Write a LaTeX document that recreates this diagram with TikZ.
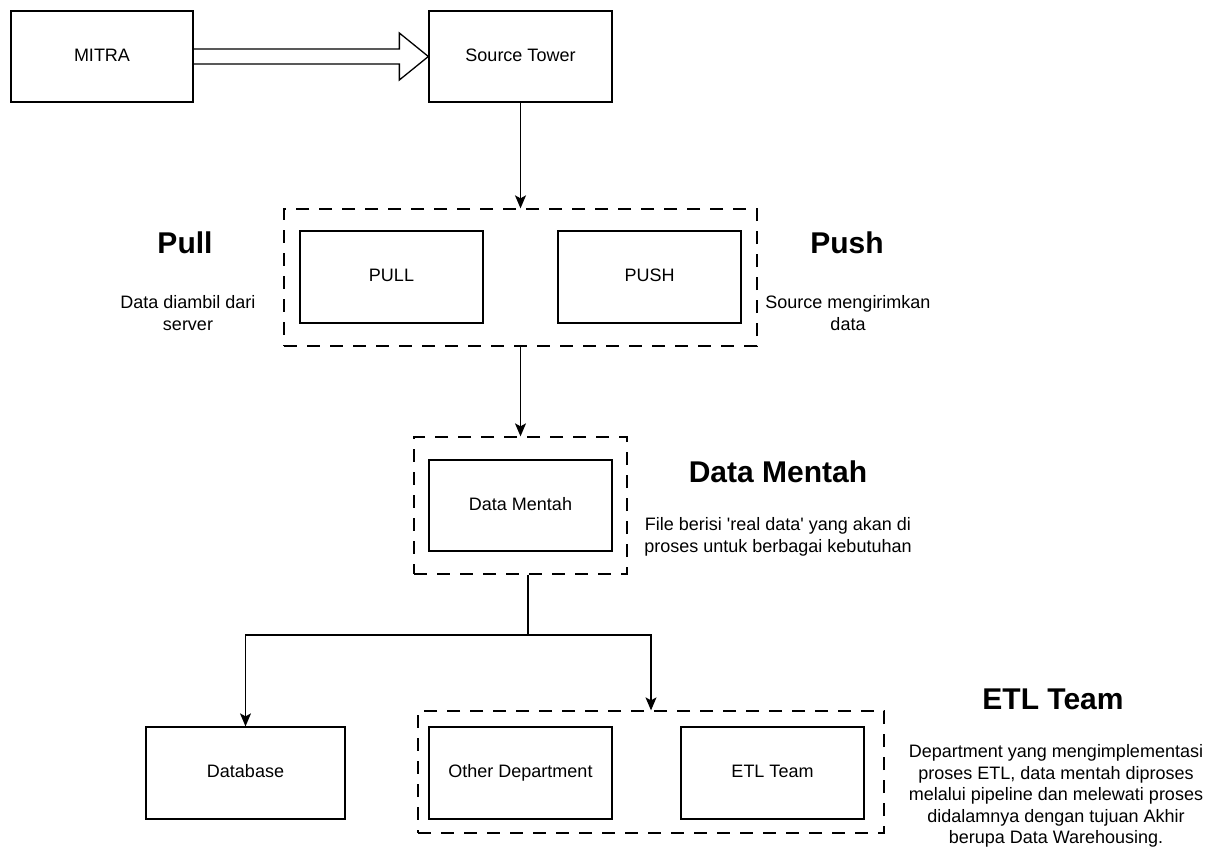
\documentclass[tikz,border=0pt]{standalone}
\usepackage{fontspec}
\setmainfont{Liberation Sans}
\usetikzlibrary{arrows.meta,calc}
\newcommand{\bodyfont}{\fontsize{18}{21.6}\selectfont}
\newcommand{\titlefont}{\fontsize{30}{36}\selectfont\bfseries}
\tikzset{
  box/.style={draw, line width=1.3pt, minimum width=183pt, minimum height=91pt, inner sep=0pt, text height=13pt, text depth=4pt, font=\bodyfont},
  group/.style={draw, line width=1.3pt, dash pattern=on 13pt off 10pt, inner sep=0pt},
  arr/.style={line width=1.3pt, -{Stealth[length=13pt, width=11pt, inset=3pt]}},
  conn/.style={line width=1.3pt},
  title/.style={font=\titlefont, inner sep=0pt},
  desc/.style={font=\bodyfont, align=center, inner sep=0pt}
}
\begin{document}
\begin{tikzpicture}[x=1pt, y=-1pt]
\useasboundingbox[fill=white] (0,0) rectangle (1218,852);

% top row
\node[box, minimum width=182pt] (mitra) at (102,56.5) {MITRA};
\node[box] (st) at (520.5,56.5) {Source Tower};

% pull / push group
\node[group, minimum width=473pt, minimum height=137pt] (g1) at (520.5,277.5) {};
\node[box, minimum height=92pt] (pull) at (391.5,277) {PULL};
\node[box, minimum height=92pt] (push) at (649.5,277) {PUSH};

% data mentah group
\node[group, minimum width=213pt, minimum height=137pt] (g2) at (520.5,505.5) {};
\node[box] (dm) at (520.5,505.5) {Data Mentah};

% bottom row
\node[box, minimum width=199pt, minimum height=92pt] (db) at (245.5,773) {Database};
\node[group, minimum width=466pt, minimum height=122pt] (g3) at (651,772) {};
\node[box, minimum height=92pt] (od) at (520.5,773) {Other Department};
\node[box, minimum height=92pt] (etl) at (772.5,773) {ETL Team};

% side texts
\node[title] (tpull) at (185,243) {Pull};
\node[desc] (dpull) at (188,313) {Data diambil dari\\server};
\node[title] (tpush) at (847,243) {Push};
\node[desc] (dpush) at (848,313) {Source mengirimkan\\data};
\node[title] (tdm) at (778,472) {Data Mentah};
\node[desc] (ddm) at (778,537) {File berisi \textquotesingle real data\textquotesingle{} yang akan di\\proses untuk berbagai kebutuhan};
\node[title] (tetl) at (1053,699) {ETL Team};
\node[desc] (detl) at (1056,796) {Department yang mengimplementasi\\proses ETL, data mentah diproses\\melalui pipeline dan melewati proses\\didalamnya dengan tujuan Akhir\\berupa Data Warehousing.};

% hollow arrow MITRA -> Source Tower
\draw[line width=1.3pt, line join=miter]
  ($(mitra.east)+(0,-7.5)$) -- ($(st.west)+(-29,-7.5)$) -- ($(st.west)+(-29,-23.5)$)
  -- (st.west) -- ($(st.west)+(-29,23.5)$) -- ($(st.west)+(-29,7.5)$) -- ($(mitra.east)+(0,7.5)$);

% connectors
\draw[arr] (st.south) -- (g1.north);
\draw[arr] (g1.south) -- (g2.north);
\coordinate (split) at (528,635);
\draw[conn] ([xshift=7.5pt]g2.south) -- (split);
\draw[arr] (split) -| (db.north);
\draw[arr] (split) -| (g3.north);
\end{tikzpicture}
\end{document}
